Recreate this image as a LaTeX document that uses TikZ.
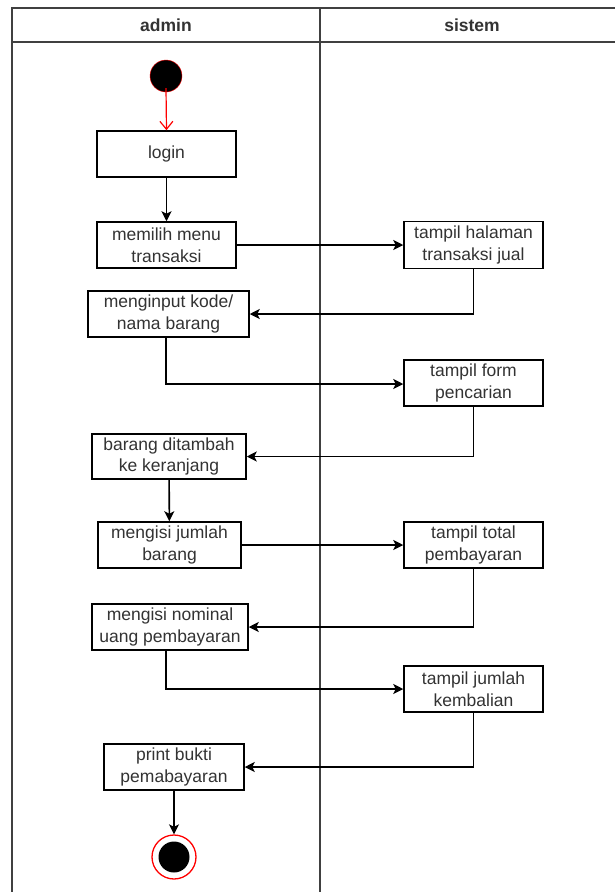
\documentclass[tikz,border=0pt]{standalone}
\usepackage{fontspec}
\setmainfont{Liberation Sans}
\usetikzlibrary{arrows.meta}
\tikzset{
	act/.style={draw=black, line width=1.5pt, fill=white, align=center, inner sep=0pt, text=black!80, font=\fontsize{17.5}{21.5}\selectfont, minimum width=139pt, minimum height=46pt},
	flow/.style={draw=black, line width=1.6pt, -{Stealth[length=10pt, width=10pt, inset=2.5pt]}},
	lane/.style={draw=black!75, line width=2pt}
}

\begin{document}
\begin{tikzpicture}[x=1pt, y=-1pt]
				\useasboundingbox (0,0) rectangle (615,892);
				
				\draw[lane] (12,892) -- (12,8) -- (615,8);
				\draw[lane] (12,42) -- (615,42);
				\draw[lane] (320,8) -- (320,892);
				\node[font=\bfseries\fontsize{17.5}{21}\selectfont, text=black!80] (admin) at (166,25) {admin};
				\node[font=\bfseries\fontsize{17.5}{21}\selectfont, text=black!80] (sistem) at (472,25) {sistem};
				
				\node[circle, draw=red, fill=black, minimum size=32pt, inner sep=0pt] (start) at (166,76) {};
				
				\node[act] (login) at (166.5,154) {login};
				\node[act] (menu) at (166.5,245) {memilih menu\\transaksi};
				\node[act, minimum height=47pt] (halaman) at (473.5,245) {tampil halaman\\transaksi jual};
				\node[act, minimum width=161pt] (kode) at (168.5,314) {menginput kode/\\nama barang};
				\node[act] (form) at (473.5,383) {tampil form\\pencarian};
				\node[act, minimum width=154pt, minimum height=45pt] (keranjang) at (169,456.5) {barang ditambah\\ke keranjang};
				\node[act, minimum width=143pt] (jumlah) at (169.5,545) {mengisi jumlah\\barang};
				\node[act] (total) at (473.5,545) {tampil total\\pembayaran};
				\node[act, minimum width=156pt] (nominal) at (170,627) {mengisi nominal\\uang pembayaran};
				\node[act] (kembalian) at (473.5,689) {tampil jumlah\\kembalian};
				\node[act, minimum width=140pt] (bukti) at (174,767) {print bukti\\pemabayaran};
				
				\node[circle, draw=red, fill=white, line width=1.3pt, minimum size=44pt, inner sep=0pt] (end) at (174,857) {};
				\node[circle, fill=black, minimum size=31pt, inner sep=0pt] (endin) at (end) {};
				
				\draw[draw=red, line width=1.2pt, -{Straight Barb[length=8pt, width=13pt]}] ([yshift=4pt]start.south) -- (login.north);
				\draw[flow] (login) -- (menu);
				\draw[flow] (menu) -- (halaman);
				\draw[flow] (halaman.south) |- (kode.east);
				\draw[flow] ([xshift=-2.5pt]kode.south) |- ([yshift=-1pt]form.west);
				\draw[flow] (form.south) |- (keranjang.east);
				\draw[flow] (keranjang) -- (jumlah);
				\draw[flow] (jumlah) -- (total);
				\draw[flow] (total.south) |- (nominal.east);
				\draw[flow] ([xshift=-4pt]nominal.south) |- (kembalian.west);
				\draw[flow] (kembalian.south) |- (bukti.east);
				\draw[flow] (bukti) -- (end);
			\end{tikzpicture}
\end{document}
